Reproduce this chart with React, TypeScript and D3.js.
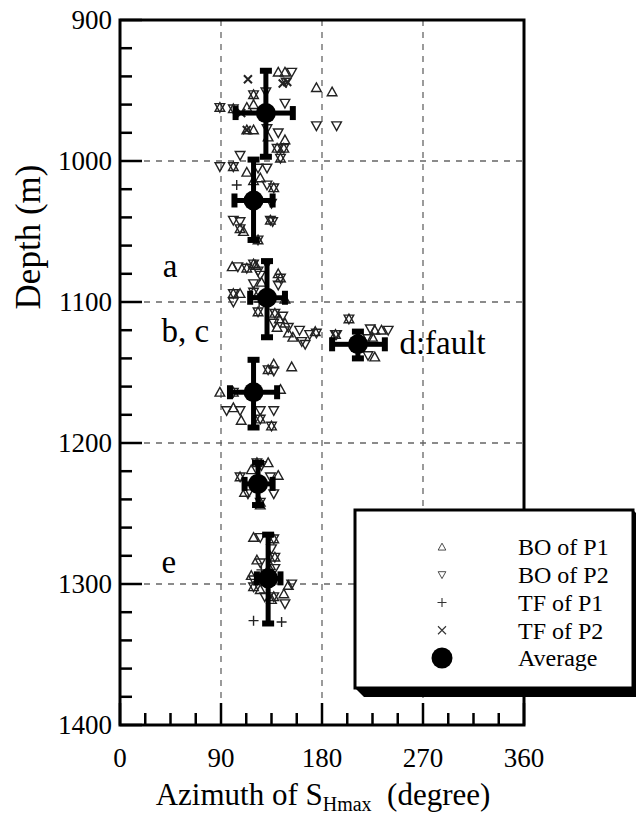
import * as d3 from 'd3';
import React, { useEffect, useRef } from 'react';

// [azimuth (deg), depth (m)]
const boP1: [number, number][] = [
  [141, 937], [147, 937], [175, 948], [189, 951], [119, 953], [89, 962], [101, 963], [113, 962], [119, 960],
  [113, 978], [119, 978], [132, 983], [147, 985], [140, 991], [146, 991], [143, 998],
  [101, 1004], [113, 1008], [125, 1012], [137, 1019], [119, 1014], [107, 1048], [110, 1050], [134, 1042], [123, 1056],
  [100, 1075], [113, 1076], [119, 1073], [121, 1074], [141, 1080], [143, 1083], [126, 1086], [119, 1093], [101, 1094],
  [107, 1094], [147, 1098], [123, 1107], [138, 1108], [142, 1112], [147, 1115], [140, 1118], [150, 1122], [154, 1125],
  [174, 1121], [192, 1123], [204, 1112], [227, 1120], [233, 1120], [225, 1125], [227, 1139],
  [132, 1148], [137, 1144], [153, 1146], [89, 1164], [101, 1164], [143, 1162], [101, 1175], [108, 1184], [125, 1183], [135, 1188],
  [122, 1214], [132, 1214], [107, 1224], [117, 1219], [141, 1223], [111, 1235], [125, 1244], [125, 1242],
  [119, 1267], [137, 1268], [138, 1281], [122, 1283], [134, 1287], [117, 1294], [119, 1302], [125, 1304], [137, 1309],
  [135, 1311], [146, 1307], [150, 1301]
];

const boP2: [number, number][] = [
  [153, 937], [148, 944], [130, 951], [119, 953], [89, 962], [101, 963], [147, 959], [175, 975], [193, 975], [131, 977],
  [141, 980], [140, 991], [146, 991], [143, 998],
  [89, 1004], [101, 1004], [107, 996], [123, 1005], [131, 1005], [131, 1017], [137, 1019], [135, 1030], [101, 1042],
  [107, 1043], [107, 1048], [134, 1042], [136, 1043], [123, 1056],
  [105, 1075], [113, 1076], [119, 1073], [131, 1073], [123, 1078], [125, 1081], [143, 1083], [141, 1088], [119, 1087],
  [119, 1093], [101, 1094], [101, 1100], [123, 1107], [138, 1108], [145, 1110], [137, 1115], [150, 1118], [160, 1120],
  [165, 1130], [162, 1128], [169, 1123], [175, 1122], [192, 1123], [204, 1112], [193, 1123], [223, 1119], [239, 1120],
  [221, 1126], [221, 1138],
  [132, 1148], [137, 1149], [101, 1164], [95, 1177], [107, 1177], [125, 1177], [125, 1183], [137, 1177], [135, 1188],
  [122, 1214], [126, 1216], [107, 1224], [134, 1224], [114, 1236], [137, 1236], [125, 1242],
  [125, 1267], [137, 1268], [135, 1275], [138, 1281], [125, 1285], [138, 1289], [119, 1297], [119, 1302], [129, 1309],
  [137, 1309], [153, 1300], [147, 1314]
];

const tfP1: [number, number][] = [[104, 1017], [119, 1326], [144, 1327], [124, 1100], [126, 1290]];
const tfP2: [number, number][] = [[114, 942], [145, 945], [149, 944], [108, 966], [113, 978]];

// [azimuth, depth, azLow, azHigh, depthLow, depthHigh]
const averages: number[][] = [
  [130, 966, 103, 154, 936, 997],
  [119, 1028, 102, 136, 999, 1056],
  [131, 1097, 116, 147, 1071, 1125],
  [212, 1130, 189, 236, 1121, 1140],
  [119, 1164, 98, 140, 1141, 1189],
  [123, 1229, 111, 136, 1214, 1244],
  [132, 1296, 122, 143, 1265, 1328]
];

const xTicks = [0, 90, 180, 270, 360];
const yTicks = [900, 1000, 1100, 1200, 1300, 1400];

const annotations = [
  { text: 'a', az: 38, depth: 1074 },
  { text: 'b, c', az: 37, depth: 1120 },
  { text: 'd:fault', az: 249, depth: 1129 },
  { text: 'e', az: 37, depth: 1284 }
];

const legendItems = ['BO of P1', 'BO of P2', 'TF of P1', 'TF of P2', 'Average'];

const FONT = '"Liberation Serif", "Times New Roman", serif';

export default function App() {
  const svgRef = useRef<SVGSVGElement | null>(null);

  useEffect(() => {
    if (!svgRef.current) return;
    const svg = d3.select(svgRef.current);
    svg.selectAll('*').remove();

    const left = 120, right = 524, top = 20, bottom = 725;
    const x = d3.scaleLinear().domain([0, 360]).range([left, right]);
    const y = d3.scaleLinear().domain([900, 1400]).range([top, bottom]);

    svg.append('rect').attr('width', 636).attr('height', 819).attr('fill', '#fff');

    // grid
    const grid = svg.append('g').attr('stroke', '#666').attr('stroke-width', 1.3).attr('stroke-dasharray', '6,6');
    [90, 180, 270].forEach(v => {
      grid.append('line').attr('x1', x(v)).attr('x2', x(v)).attr('y1', top).attr('y2', bottom);
    });
    [1000, 1100, 1200, 1300].forEach(v => {
      grid.append('line').attr('x1', left).attr('x2', right).attr('y1', y(v)).attr('y2', y(v));
    });

    // scatter markers
    const tri = (up: boolean) => {
      const s = 4.8;
      return up
        ? `M0,${-s} L${s},${s * 0.8} L${-s},${s * 0.8} Z`
        : `M0,${s} L${s},${-s * 0.8} L${-s},${-s * 0.8} Z`;
    };
    const pts = svg.append('g').attr('fill', 'none').attr('stroke', '#222').attr('stroke-width', 1.4);
    pts.selectAll('.up').data(boP1).join('path')
      .attr('d', tri(true))
      .attr('transform', d => `translate(${x(d[0])},${y(d[1])})`);
    pts.selectAll('.dn').data(boP2).join('path')
      .attr('d', tri(false))
      .attr('transform', d => `translate(${x(d[0])},${y(d[1])})`);
    pts.selectAll('.plus').data(tfP1).join('path')
      .attr('d', 'M-5,0 L5,0 M0,-5 L0,5')
      .attr('transform', d => `translate(${x(d[0])},${y(d[1])})`);
    pts.selectAll('.cross').data(tfP2).join('path')
      .attr('d', 'M-4,-4 L4,4 M-4,4 L4,-4')
      .attr('stroke-width', 2)
      .attr('transform', d => `translate(${x(d[0])},${y(d[1])})`);

    // averages with error bars
    const avg = svg.append('g').attr('fill', '#000');
    averages.forEach(([az, dep, a0, a1, d0, d1]) => {
      const cx = x(az), cy = y(dep);
      avg.append('rect').attr('x', cx - 2.5).attr('width', 5).attr('y', y(d0)).attr('height', y(d1) - y(d0));
      avg.append('rect').attr('y', cy - 2.5).attr('height', 5).attr('x', x(a0)).attr('width', x(a1) - x(a0));
      [d0, d1].forEach(v => avg.append('rect').attr('x', cx - 6).attr('width', 12).attr('y', y(v) - 3).attr('height', 6));
      [a0, a1].forEach(v => avg.append('rect').attr('y', cy - 7).attr('height', 14).attr('x', x(v) - 3).attr('width', 6));
      avg.append('circle').attr('cx', cx).attr('cy', cy).attr('r', 10);
    });

    // frame
    svg.append('rect').attr('x', left).attr('y', top).attr('width', right - left).attr('height', bottom - top)
      .attr('fill', 'none').attr('stroke', '#000').attr('stroke-width', 3);

    // ticks (inward)
    const ticks = svg.append('g').attr('stroke', '#000').attr('stroke-width', 2.5);
    d3.range(900, 1401, 20).forEach(v => {
      const len = v % 100 === 0 ? 22 : 12;
      ticks.append('line').attr('x1', left).attr('x2', left + len).attr('y1', y(v)).attr('y2', y(v));
    });
    d3.range(0, 361, 22.5).forEach(v => {
      const len = v % 90 === 0 ? 22 : 12;
      ticks.append('line').attr('x1', x(v)).attr('x2', x(v)).attr('y1', bottom).attr('y2', bottom - len);
    });

    const txt = (sel: any, size: number) =>
      sel.append('text').style('font-family', FONT).style('font-size', `${size}px`).attr('fill', '#000');

    // tick labels
    yTicks.forEach(v => {
      txt(svg, 27).attr('x', 112).attr('y', y(v)).attr('dy', '0.35em').attr('text-anchor', 'end').text(String(v));
    });
    xTicks.forEach(v => {
      txt(svg, 27).attr('x', x(v)).attr('y', 767).attr('text-anchor', 'middle').text(String(v));
    });

    // axis titles
    const xt = txt(svg, 31).attr('x', 323).attr('y', 805).attr('text-anchor', 'middle');
    xt.append('tspan').text('Azimuth of S');
    xt.append('tspan').style('font-size', '20px').attr('dy', 6).text('Hmax');
    xt.append('tspan').attr('dy', -6).text('\u00a0 (degree)');

    txt(svg, 35).attr('transform', `translate(40,237) rotate(-90)`)
      .attr('text-anchor', 'middle').text('Depth (m)');

    // annotations
    annotations.forEach(a => {
      txt(svg, 33).attr('x', x(a.az)).attr('y', y(a.depth)).attr('dy', '0.35em').text(a.text);
    });

    // legend
    const lx = 355, ly = 510, lw = 278, lh = 178, off = 9;
    svg.append('polygon')
      .attr('points', [[lx, ly + lh], [lx + off, ly + lh + off], [lx + lw + off, ly + lh + off], [lx + lw + off, ly + off], [lx + lw, ly]].map(p => p.join(',')).join(' '))
      .attr('fill', '#000');
    svg.append('rect').attr('x', lx).attr('y', ly).attr('width', lw).attr('height', lh)
      .attr('fill', '#fff').attr('stroke', '#000').attr('stroke-width', 3);

    const rowY = d3.scalePoint().domain(legendItems).range([547, 658]);
    const symX = 442;
    legendItems.forEach((item, i) => {
      const ry = rowY(item) as number;
      const sg = svg.append('g').attr('transform', `translate(${symX},${ry})`)
        .attr('fill', 'none').attr('stroke', '#333').attr('stroke-width', 1.1);
      if (i === 0) sg.append('path').attr('d', tri(true)).attr('transform', 'scale(0.8)');
      if (i === 1) sg.append('path').attr('d', tri(false)).attr('transform', 'scale(0.8)');
      if (i === 2) sg.append('path').attr('d', 'M-4.5,0 L4.5,0 M0,-4.5 L0,4.5');
      if (i === 3) sg.append('path').attr('d', 'M-4,-4 L4,4 M-4,4 L4,-4');
      if (i === 4) sg.append('circle').attr('r', 10.5).attr('fill', '#000').attr('stroke', 'none');
      txt(svg, 24).attr('x', 518).attr('y', ry).attr('dy', '0.35em').text(item);
    });
  }, []);

  return (
    <div style={{ position: 'absolute', left: 0, top: 0, width: 636, height: 819 }}>
      <svg ref={svgRef} width={636} height={819} style={{ display: 'block' }}></svg>
    </div>
  );
}
